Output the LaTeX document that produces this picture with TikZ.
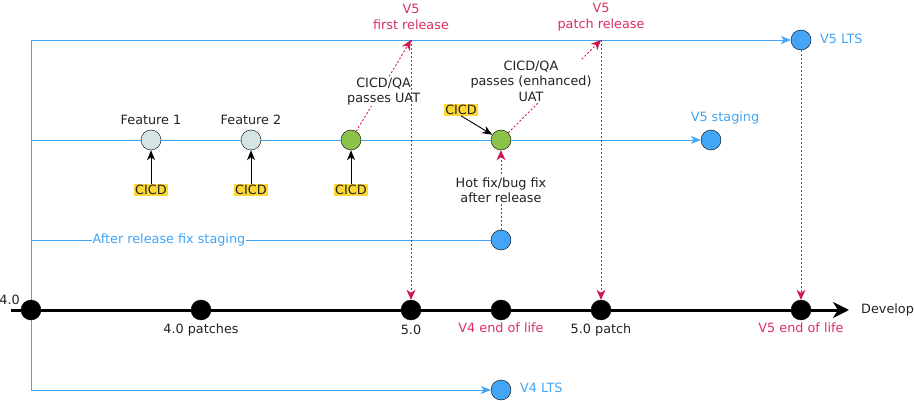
\documentclass[tikz,border=0pt]{standalone}
\usepackage{fontspec}
\setmainfont{DejaVu Sans}
\usetikzlibrary{arrows.meta,positioning,backgrounds}

\definecolor{branchblue}{HTML}{42A5F5}
\definecolor{relred}{HTML}{DC2F5E}
\definecolor{dotred}{HTML}{CC1A4F}
\definecolor{featgray}{HTML}{D5E4E4}
\definecolor{okgreen}{HTML}{8BC34A}
\definecolor{ciyellow}{HTML}{FDD835}
\definecolor{txtgray}{HTML}{222222}

\tikzset{
    commit/.style={circle, draw=black, fill=black, inner sep=0pt, minimum size=20pt},
    bluedot/.style={circle, draw=black, fill=branchblue, inner sep=0pt, minimum size=20pt},
    featdot/.style={circle, draw=black, fill=featgray, inner sep=0pt, minimum size=20pt},
    greendot/.style={circle, draw=black, fill=okgreen, inner sep=0pt, minimum size=20pt},
    branch/.style={draw=branchblue, line width=0.8pt},
    release/.style={draw=dotred, line width=0.9pt, dash pattern=on 2pt off 2pt,
        -{Stealth[length=10pt, width=9pt, inset=3pt]}},
    trigger/.style={line width=0.9pt, -{Stealth[length=10pt, width=8pt, inset=3pt]}},
    cicd/.style={fill=ciyellow, inner sep=0.8pt, text=txtgray},
    lbl/.style={inner sep=1pt, text=txtgray, align=center},
}

\begin{document}
\begin{tikzpicture}[x=1pt, y=-1pt, >=Stealth, font=\fontsize{12.8}{15.5}\selectfont]
    \useasboundingbox (0,0) rectangle (914,401);

    % --- Key Coordinates ---
    \coordinate (top) at (31,40);
    \coordinate (mid) at (31,140);
    \coordinate (low) at (31,240);
    \coordinate (bot) at (31,390);
    \coordinate (rel1) at (411,40);
    \coordinate (rel2) at (601,40);
    \coordinate (devstart) at (11,310);
    \coordinate (devend) at (849,310);

    % --- 1. Develop line commits ---
    \node[commit] (v40) at (31,310) {};
    \node[commit] (p40) at (201,310) {};
    \node[commit] (v50) at (411,310) {};
    \node[commit] (eol4) at (501,310) {};
    \node[commit] (p50) at (601,310) {};
    \node[commit] (eol5) at (801,310) {};
    \node[lbl, anchor=east] at (21,300) {4.0};
    \node[lbl] at (201,330) {4.0 patches};
    \node[lbl] at (411,330) {5.0};
    \node[lbl, text=relred] at (501,328) {V4 end of life};
    \node[lbl] at (601,330) {5.0 patch};
    \node[lbl, text=relred] at (801,328) {V5 end of life};
    \node[lbl, anchor=west] at (860,310) {Develop};

    % --- 2. Branch heads ---
    \node[bluedot] (lts5) at (801,40) {};
    \node[lbl, anchor=west, text=branchblue] at (819,39) {V5 LTS};
    \node[bluedot] (stg5) at (711,140) {};
    \node[lbl, text=branchblue] at (725,118) {V5 staging};
    \node[bluedot] (fix) at (501,240) {};
    \node[bluedot] (lts4) at (501,390) {};
    \node[lbl, anchor=west, text=branchblue] at (519,388) {V4 LTS};

    % --- 3. Feature commits on staging ---
    \node[featdot] (f1) at (151,140) {};
    \node[lbl] at (151,120) {Feature 1};
    \node[featdot] (f2) at (251,140) {};
    \node[lbl] at (251,120) {Feature 2};
    \node[greendot] (g1) at (351,140) {};
    \node[greendot] (g2) at (501,140) {};

    % --- 4. CICD triggers ---
    \node[cicd] (c1) at (151,190) {CICD};
    \node[cicd] (c2) at (251,190) {CICD};
    \node[cicd] (c3) at (351,190) {CICD};
    \node[cicd] (c4) at (461,110) {CICD};
    \draw[trigger] (c1) -- (f1);
    \draw[trigger] (c2) -- (f2);
    \draw[trigger] (c3) -- (g1);
    \draw[trigger] (c4.south) -- (g2);

    % --- 5. Releases (dotted red) ---
    \node[lbl, text=relred] at (411,17) {V5\\first release};
    \node[lbl, text=relred] at (601,17) {V5\\patch release};
    \draw[release] (g1) -- (rel1)
        node[midway, lbl, fill=white, yshift=-6pt] {CICD/QA\\passes UAT};
    \draw[release] (g2) -- (rel2);
    \node[lbl, fill=white] (qa2) at (531,81) {CICD/QA\\passes (enhanced)\\UAT};
    \draw[release] (rel1) -- (v50);
    \draw[release] (rel2) -- (p50);
    \draw[release] (lts5) -- (eol5);
    \draw[release] (fix) -- (g2)
        node[midway, lbl, fill=white] {Hot fix/bug fix\\after release};

    % --- 6. Branch lines (behind the commits) ---
    \begin{scope}[on background layer]
        \draw[line width=3pt, -{Stealth[length=16pt, width=16pt, inset=5pt]}] (devstart) -- (devend);
        \draw[branch] (top) -- (bot);
        \draw[branch, -{Stealth[length=10pt, width=8pt, inset=3pt]}] (top) -- (lts5);
        \draw[branch, -{Stealth[length=10pt, width=8pt, inset=3pt]}] (mid) -- (stg5);
        \draw[branch] (low) -- (fix)
            node[pos=0.3, inner sep=0.5pt, fill=white, text=branchblue] {After release fix staging};
        \draw[branch, -{Stealth[length=10pt, width=8pt, inset=3pt]}] (bot) -- (lts4);
    \end{scope}
\end{tikzpicture}
\end{document}
